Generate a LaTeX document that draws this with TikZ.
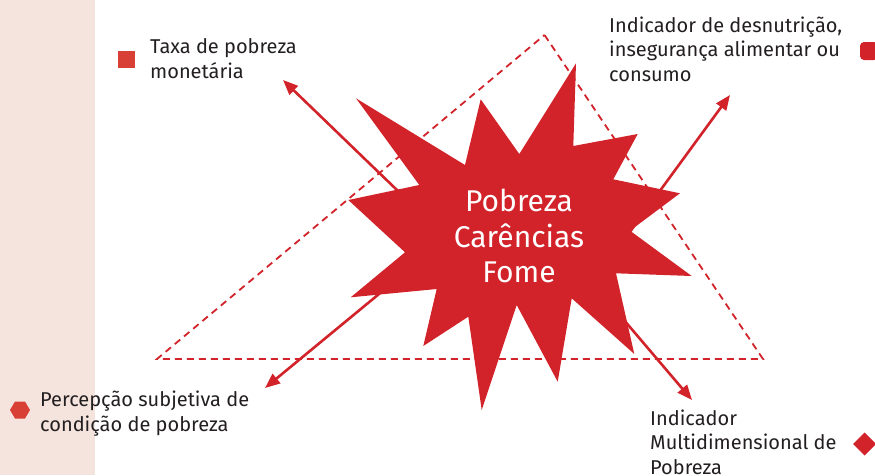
\documentclass[tikz,border=0pt]{standalone}
\usepackage{fontspec}
\setmainfont{Fira Sans}
\usetikzlibrary{arrows.meta}
\definecolor{starred}{HTML}{D2232A}
\definecolor{mkred}{HTML}{D94035}
\definecolor{band}{HTML}{F5E4DD}
\definecolor{txt}{HTML}{231F20}
\tikzset{
  lbl/.style={anchor=base west, align=left, inner sep=0pt, text=txt, font=\fontsize{20}{24.5}\selectfont},
  arr/.style={draw=starred, line width=2.6pt, -{Triangle[length=15pt,width=12pt]}},
  tri/.style={draw=starred, line width=1.8pt, dash pattern=on 7pt off 5pt},
}
\begin{document}
\begin{tikzpicture}[x=1pt,y=-1pt]
\useasboundingbox (0,0) rectangle (875,475);
\fill[band] (0,0) rectangle (95,475);
% dashed triangle
\coordinate (ta) at (544.5,35);
\coordinate (tl) at (157,359);
\coordinate (tr) at (763,359);
\draw[tri] (ta) -- (tr) -- (tl) -- cycle;
% arrow endpoints
\coordinate (s1) at (427,219);
\coordinate (e1) at (283,80);
\coordinate (s2) at (624,240);
\coordinate (e2) at (730,95);
\coordinate (s3) at (419,261);
\coordinate (e3) at (265,388);
\coordinate (s4) at (595,286);
\coordinate (e4) at (692,400);
\draw[arr] (s1) -- (e1);
\draw[arr] (s2) -- (e2);
\draw[arr] (s3) -- (e3);
\draw[arr] (s4) -- (e4);
% star
\fill[starred] (576,63.3) -- (573.3,146) -- (637.7,134) -- (613.3,179.3) -- (680,193.3)
 -- (630,230.7) -- (691.7,276) -- (616,273.3) -- (634.3,354) -- (571.7,298.3)
 -- (557.7,381.7) -- (516.7,305) -- (481.7,410) -- (468.3,316.7) -- (423.3,346)
 -- (436.7,289) -- (350.7,297.3) -- (405,252.3) -- (348.3,200) -- (419.3,185)
 -- (356,98.3) -- (465,165) -- (480.7,99.3) -- (519.3,154) -- cycle;
\node[align=center, text=white, inner sep=0pt, font=\fontsize{30}{35.5}\selectfont] (star) at (519,236) {Pobreza\\Carências\\Fome};
% labels (anchor = baseline of last line)
\node[lbl] (l1) at (150,78) {Taxa de pobreza\\monetária};
\node[lbl] (l2) at (609,81) {Indicador de desnutrição,\\insegurança alimentar ou\\consumo};
\node[lbl] (l3) at (40,431) {Percepção subjetiva de\\condição de pobreza};
\node[lbl] (l4) at (650,474) {Indicador\\Multidimensional de\\Pobreza};
% markers
\fill[mkred] (118.3,51) rectangle (135,67.7);
\fill[starred, rounded corners=4pt] (860,42) rectangle (878,60);
\fill[mkred] (10,410) -- (15,401.5) -- (25,401.5) -- (30,410) -- (25,418.5) -- (15,418.5) -- cycle;
\fill[starred] (864.5,432.5) -- (876,444) -- (864.5,455.5) -- (853,444) -- cycle;
\end{tikzpicture}
\end{document}
